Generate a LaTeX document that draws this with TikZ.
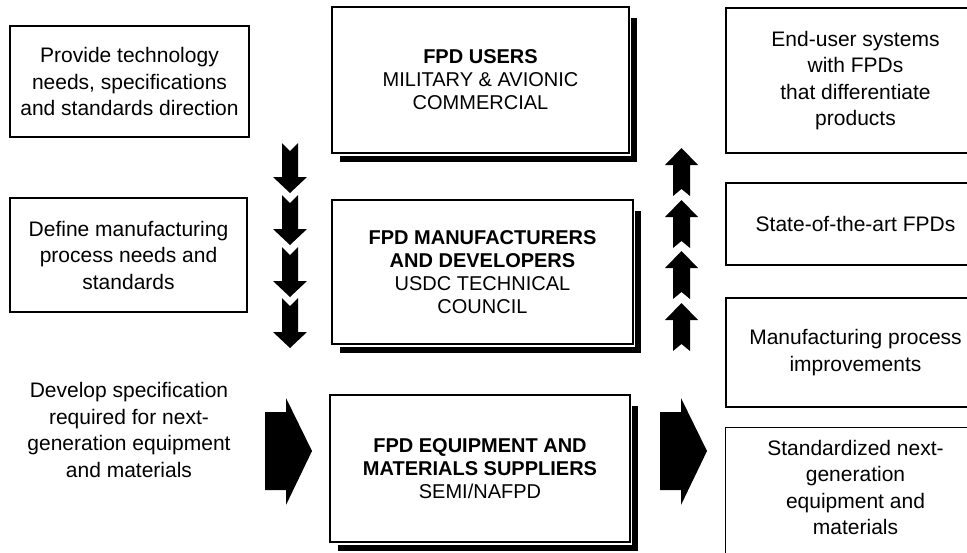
\documentclass[tikz,border=0pt]{standalone}
\usepackage{fontspec}
\setmainfont{Liberation Sans}
\begin{document}
\begin{tikzpicture}[x=1pt,y=-1pt,
    box/.style={draw, line width=1.1pt, align=center, inner sep=0pt,
      font=\fontsize{21}{26.5}\selectfont},
    plain/.style={align=center, inner sep=0pt, font=\fontsize{21}{26.5}\selectfont},
    core/.style={draw, line width=1.1pt, align=center, inner sep=0pt,
      font=\fontsize{20}{23}\selectfont},
    shadow/.style={line width=6pt}]
  \useasboundingbox (0,0) rectangle (967,552);
  % left column
  \node[box, minimum width=239, minimum height=111] (need) at (129.5,81.5)
    {Provide technology\\needs, specifications\\and standards direction};
  \node[box, minimum width=237, minimum height=114] (define) at (128.5,255)
    {Define manufacturing\\process needs and\\standards};
  \node[plain] (develop) at (129,430)
    {Develop specification\\required for next-\\generation equipment\\and materials};
  % middle column
  \node[core, minimum width=297, minimum height=146] (users) at (480.5,80)
    {\textbf{FPD USERS}\\MILITARY \& AVIONIC\\COMMERCIAL};
  \node[core, minimum width=301, minimum height=144] (makers) at (482.5,272)
    {\textbf{FPD MANUFACTURERS}\\\textbf{AND DEVELOPERS}\\USDC TECHNICAL\\COUNCIL};
  \node[core, minimum width=300, minimum height=147] (suppliers) at (480,468.5)
    {\textbf{FPD EQUIPMENT AND}\\\textbf{MATERIALS SUPPLIERS}\\SEMI/NAFPD};
  \foreach \n in {users,makers,suppliers}
    \draw[shadow] ([xshift=4pt,yshift=-12pt]\n.north east) -- ([xshift=4pt,yshift=-5pt]\n.south east)
      -- ([xshift=9pt,yshift=-5pt]\n.south west);
  % right column
  \node[box, minimum width=259, minimum height=145] (enduser) at (855.5,80.5)
    {End-user systems\\with FPDs\\that differentiate\\products};
  \node[box, minimum width=259, minimum height=82] (stateart) at (855.5,224)
    {State-of-the-art FPDs};
  \node[box, minimum width=259, minimum height=109] (improve) at (855.5,352.5)
    {Manufacturing process\\improvements};
  \node[plain, minimum width=259, minimum height=119] (nextgen) at (855.5,487.5)
    {Standardized next-\\generation\\equipment and\\materials};
  \draw[line width=1.1pt] ([yshift=-20pt]nextgen.south west) -- (nextgen.north west) -- (nextgen.north east);
  % block arrows
  \foreach \t in {143,195,247,298}
    \fill (282,\t) -- (290,\t+8) -- (298,\t) -- (298,\t+34) -- (307,\t+34)
      -- (290,\t+50) -- (273,\t+34) -- (282,\t+34) -- cycle;
  \foreach \t in {148,200,251,303}
    \fill (681.5,\t) -- (698,\t+17) -- (690,\t+17) -- (690,\t+48) -- (681.5,\t+41)
      -- (673,\t+48) -- (673,\t+17) -- (665,\t+17) -- cycle;
  \foreach \x in {265,660}
    \fill (\x,412) -- (\x+21,412) -- (\x+21,398) -- (\x+47,451) -- (\x+21,505)
      -- (\x+21,490) -- (\x,490) -- cycle;
\end{tikzpicture}
\end{document}
